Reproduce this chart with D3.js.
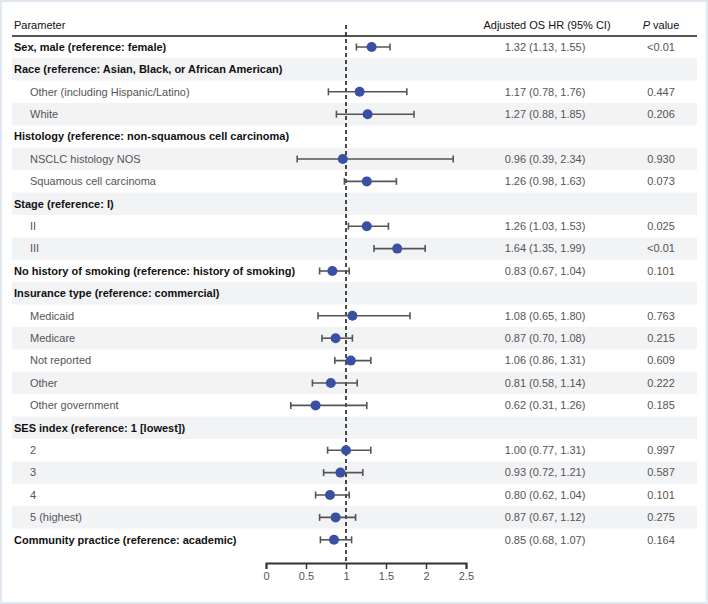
<!DOCTYPE html>
<html>
<head>
<meta charset="utf-8">
<script src="https://cdn.jsdelivr.net/npm/d3@7"></script>
<style>
  html, body { margin: 0; padding: 0; background: #fff; }
  svg { display: block; font-family: "Liberation Sans", Arial, sans-serif; }
</style>
</head>
<body>
<svg id="chart" width="708" height="604"></svg>
<script>
// ---- Data ----
const labels = [
  "Sex, male (reference: female)",
  "Race (reference: Asian, Black, or African American)",
  "Other (including Hispanic/Latino)",
  "White",
  "Histology (reference: non-squamous cell carcinoma)",
  "NSCLC histology NOS",
  "Squamous cell carcinoma",
  "Stage (reference: I)",
  "II",
  "III",
  "No history of smoking (reference: history of smoking)",
  "Insurance type (reference: commercial)",
  "Medicaid",
  "Medicare",
  "Not reported",
  "Other",
  "Other government",
  "SES index (reference: 1 [lowest])",
  "2",
  "3",
  "4",
  "5 (highest)",
  "Community practice (reference: academic)"
];
const levels = [0,0,1,1,0,1,1,0,1,1,0,0,1,1,1,1,1,0,1,1,1,1,0];
const hr  = [1.32,null,1.17,1.27,null,0.96,1.26,null,1.26,1.64,0.83,null,1.08,0.87,1.06,0.81,0.62,null,1.00,0.93,0.80,0.87,0.85];
const lo  = [1.13,null,0.78,0.88,null,0.39,0.98,null,1.03,1.35,0.67,null,0.65,0.70,0.86,0.58,0.31,null,0.77,0.72,0.62,0.67,0.68];
const hi  = [1.55,null,1.76,1.85,null,2.34,1.63,null,1.53,1.99,1.04,null,1.80,1.08,1.31,1.14,1.26,null,1.31,1.21,1.04,1.12,1.07];
const pvals = ["<0.01","","0.447","0.206","","0.930","0.073","","0.025","<0.01","0.101","","0.763","0.215","0.609","0.222","0.185","","0.997","0.587","0.101","0.275","0.164"];
const xTicks = [0, 0.5, 1, 1.5, 2, 2.5];
const refValue = 1;

// ---- Chart ----
const svg = d3.select("#chart");
const W = 708, H = 604;

// outer frame
svg.append("rect").attr("x", 1).attr("y", 1).attr("width", W - 2).attr("height", H - 2)
  .attr("fill", "#fff").attr("stroke", "#dfe7f1").attr("stroke-width", 2);

const tableLeft = 12, tableRight = 697;
const x = d3.scaleLinear().domain([0, 2.5]).range([266, 466]);
const y = d3.scaleBand().domain(d3.range(labels.length)).range([35.8, 551]).padding(0);
const hrX = 545, pX = 661;
const fmt = d3.format(".2f");

// row bands
svg.append("g").selectAll("rect").data(d3.range(labels.length).filter(i => i % 2 === 1))
  .join("rect")
  .attr("x", tableLeft).attr("width", tableRight - tableLeft)
  .attr("y", i => y(i)).attr("height", y.bandwidth())
  .attr("fill", "#f2f3f5");

// header
const header = svg.append("g").attr("font-size", 11).attr("fill", "#111");
header.append("text").attr("x", 14).attr("y", 25).attr("dy", "0.35em").text("Parameter");
header.append("text").attr("x", hrX + 2).attr("y", 25).attr("dy", "0.35em").attr("text-anchor", "middle")
  .text("Adjusted OS HR (95% CI)");
const pt = header.append("text").attr("x", pX).attr("y", 25).attr("dy", "0.35em").attr("text-anchor", "middle");
pt.append("tspan").attr("font-style", "italic").text("P");
pt.append("tspan").text(" value");

svg.append("line").attr("x1", tableLeft).attr("x2", tableRight).attr("y1", 36).attr("y2", 36)
  .attr("stroke", "#555").attr("stroke-width", 2);

// row labels
svg.append("g").selectAll("text").data(labels).join("text")
  .attr("x", (d, i) => levels[i] === 0 ? 14 : 30)
  .attr("y", (d, i) => y(i) + y.bandwidth() / 2)
  .attr("dy", "0.35em")
  .attr("font-size", 11)
  .attr("font-weight", (d, i) => levels[i] === 0 ? "bold" : "normal")
  .attr("fill", (d, i) => levels[i] === 0 ? "#111" : "#555")
  .text(d => d);

// HR text and p values
const idx = d3.range(labels.length).filter(i => hr[i] !== null);
svg.append("g").selectAll("text").data(idx).join("text")
  .attr("x", hrX).attr("y", i => y(i) + y.bandwidth() / 2).attr("dy", "0.35em")
  .attr("text-anchor", "middle").attr("font-size", 11).attr("fill", "#555")
  .text(i => `${fmt(hr[i])} (${fmt(lo[i])}, ${fmt(hi[i])})`);
svg.append("g").selectAll("text").data(idx).join("text")
  .attr("x", pX).attr("y", i => y(i) + y.bandwidth() / 2).attr("dy", "0.35em")
  .attr("text-anchor", "middle").attr("font-size", 11).attr("fill", "#555")
  .text(i => pvals[i]);

// axis
const axisY = 563;
const axis = d3.axisBottom(x).tickValues(xTicks).tickSize(6).tickPadding(3)
  .tickFormat(d => d3.format("~g")(d));
const ax = svg.append("g").attr("transform", `translate(0,${axisY})`).call(axis);
ax.select(".domain").attr("stroke", "#333").attr("stroke-width", 2);
ax.selectAll(".tick line").attr("stroke", "#333").attr("stroke-width", 1.5);
ax.selectAll(".tick text").attr("font-size", 11).attr("fill", "#555")
  .attr("font-family", "Liberation Sans, Arial, sans-serif");

// reference line
svg.append("line").attr("x1", x(refValue)).attr("x2", x(refValue)).attr("y1", 25).attr("y2", axisY)
  .attr("stroke", "#111").attr("stroke-width", 1.5).attr("stroke-dasharray", "4,3");

// CIs
const ci = svg.append("g").attr("stroke", "#555").attr("stroke-width", 1.6);
idx.forEach(i => {
  const cy = y(i) + y.bandwidth() / 2;
  ci.append("line").attr("x1", x(lo[i])).attr("x2", x(hi[i])).attr("y1", cy).attr("y2", cy);
  ci.append("line").attr("x1", x(lo[i])).attr("x2", x(lo[i])).attr("y1", cy - 3.5).attr("y2", cy + 3.5);
  ci.append("line").attr("x1", x(hi[i])).attr("x2", x(hi[i])).attr("y1", cy - 3.5).attr("y2", cy + 3.5);
});
svg.append("g").selectAll("circle").data(idx).join("circle")
  .attr("cx", i => x(hr[i])).attr("cy", i => y(i) + y.bandwidth() / 2).attr("r", 5)
  .attr("fill", "#3a51a3");
</script>
</body>
</html>
